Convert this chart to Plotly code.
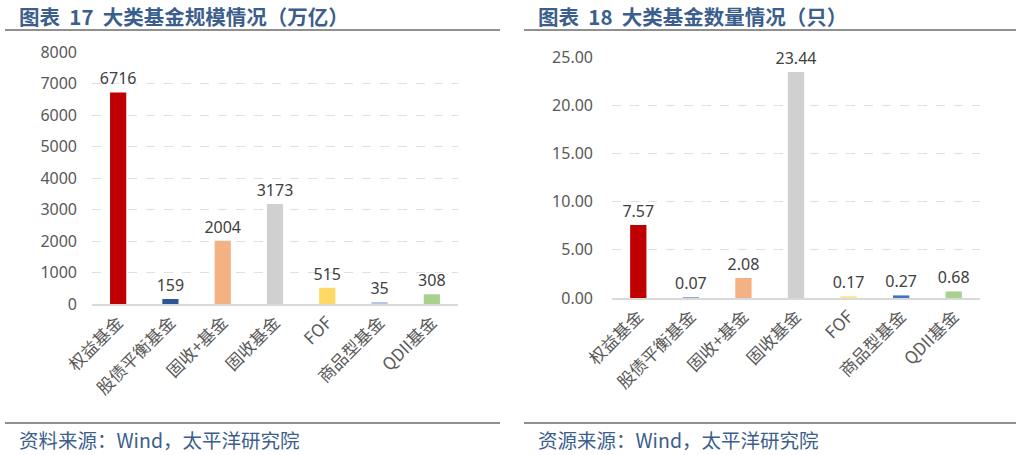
import plotly.graph_objects as go

categories = ["权益基金", "股债平衡基金", "固收+基金", "固收基金", "FOF", "商品型基金", "QDII基金"]
scale_values = [6716, 159, 2004, 3173, 515, 35, 308]
scale_labels = ["6716", "159", "2004", "3173", "515", "35", "308"]
count_values = [7.57, 0.07, 2.08, 23.44, 0.17, 0.27, 0.68]
count_labels = ["7.57", "0.07", "2.08", "23.44", "0.17", "0.27", "0.68"]
left_colors = ["#C00000", "#2F5597", "#F4B183", "#D0D0D0", "#FFD966", "#B4C7E7", "#A9D18E"]
right_colors = ["#C00000", "#8FAADC", "#F4B183", "#D0D0D0", "#FFE699", "#4472C4", "#A9D18E"]
left_title = "图表  17  大类基金规模情况（万亿）"
right_title = "图表  18  大类基金数量情况（只）"
left_source = "资料来源：Wind，太平洋研究院"
right_source = "资源来源：Wind，太平洋研究院"
left_ticks = [0, 1000, 2000, 3000, 4000, 5000, 6000, 7000, 8000]
right_ticks = [0, 5, 10, 15, 20, 25]

W, H = 1021, 455
fig = go.Figure()
font_family = "Noto Sans CJK SC, Noto Sans, sans-serif"

fig.add_trace(go.Bar(x=categories, y=scale_values, text=scale_labels, textposition="outside",
                     marker=dict(color=left_colors, line=dict(width=0)), cliponaxis=False,
                     constraintext="none",
                     textfont=dict(size=16, color="#404040", family="Noto Sans, sans-serif"),
                     xaxis="x", yaxis="y", showlegend=False))
fig.add_trace(go.Bar(x=categories, y=count_values, text=count_labels, textposition="outside",
                     marker=dict(color=right_colors, line=dict(width=0)), cliponaxis=False,
                     constraintext="none",
                     textfont=dict(size=16, color="#404040", family="Noto Sans, sans-serif"),
                     xaxis="x2", yaxis="y2", showlegend=False))

def px(x):
    return x / W

def py(y):
    return 1 - y / H

axis_common = dict(showgrid=False, tickangle=-45, tickfont=dict(size=17, color="#595959"),
                   showline=True, linecolor="#D9D9D9", linewidth=1.5, ticks="", automargin=False)
yaxis_common = dict(showgrid=True, gridcolor="#E0E0E0", griddash="dash", gridwidth=1,
                    tickfont=dict(size=16, color="#595959", family="Noto Sans, sans-serif"),
                    zeroline=False, showline=False, ticks="", automargin=False)

fig.update_layout(
    width=W, height=H, margin=dict(l=0, r=0, t=0, b=0, pad=0), autosize=False,
    paper_bgcolor="white", plot_bgcolor="white",
    font=dict(family=font_family),
    bargap=0.69,
    xaxis=dict(domain=[px(92), px(458)], anchor="y", **axis_common),
    yaxis=dict(domain=[py(304), py(52)], anchor="x", range=[0, 8000], tickvals=left_ticks,
               ticktext=[str(v) for v in left_ticks], ticklabelstandoff=14, **yaxis_common),
    xaxis2=dict(domain=[px(612), px(980)], anchor="y2", **axis_common),
    yaxis2=dict(domain=[py(298), py(57)], anchor="x2", range=[0, 25], tickvals=right_ticks,
                ticktext=[f"{v:.2f}" for v in right_ticks], ticklabelstandoff=18, **yaxis_common),
)

title_color = "#3B5E8C"
shapes = [
    dict(type="line", xref="paper", yref="paper", x0=px(5), x1=px(500), y0=py(30), y1=py(30),
         line=dict(color="#222222", width=1.2)),
    dict(type="line", xref="paper", yref="paper", x0=px(524), x1=px(1016), y0=py(30), y1=py(30),
         line=dict(color="#222222", width=1.2)),
    dict(type="line", xref="paper", yref="paper", x0=px(5), x1=px(500), y0=py(423), y1=py(423),
         line=dict(color="#222222", width=1.2)),
    dict(type="line", xref="paper", yref="paper", x0=px(524), x1=px(1016), y0=py(423), y1=py(423),
         line=dict(color="#222222", width=1.2)),
]
annotations = [
    dict(text=f"<b>{left_title}</b>", x=px(17), y=py(16), xref="paper", yref="paper",
         xanchor="left", yanchor="middle", showarrow=False, font=dict(size=20.5, color=title_color)),
    dict(text=f"<b>{right_title}</b>", x=px(536), y=py(16), xref="paper", yref="paper",
         xanchor="left", yanchor="middle", showarrow=False, font=dict(size=20.5, color=title_color)),
    dict(text=left_source, x=px(17), y=py(439), xref="paper", yref="paper",
         xanchor="left", yanchor="middle", showarrow=False, font=dict(size=19.5, color=title_color)),
    dict(text=right_source, x=px(536), y=py(439), xref="paper", yref="paper",
         xanchor="left", yanchor="middle", showarrow=False, font=dict(size=19.5, color=title_color)),
]
fig.update_layout(shapes=shapes, annotations=annotations)

fig.write_html("out.html", config={"displayModeBar": False},
               post_script="document.body.style.margin='0px';document.body.style.padding='0px';")
